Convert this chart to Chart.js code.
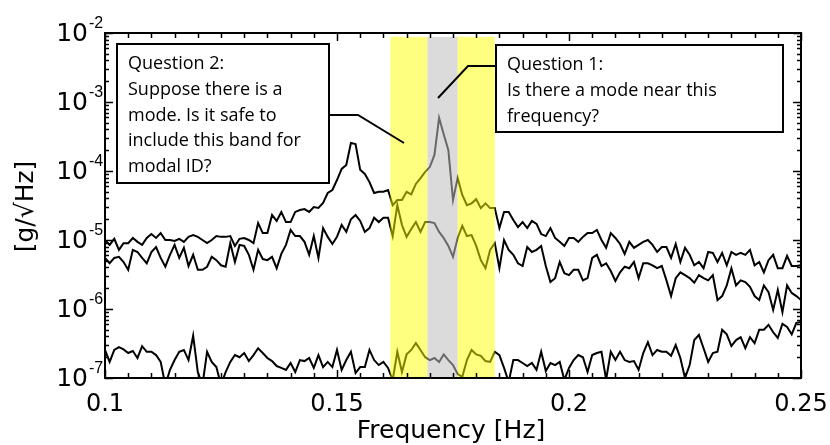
<!DOCTYPE html>
<html>
<head>
<meta charset="utf-8">
<script src="https://cdn.jsdelivr.net/npm/chart.js@4/dist/chart.umd.min.js"></script>
<style>
  body { margin: 0; background: #fff; }
</style>
</head>
<body>
<canvas id="psdChart" width="830" height="445"></canvas>
<script>
// frequency grid [Hz]
const freqs = [
  0.100, 0.101, 0.102, 0.103, 0.104, 0.105, 0.106, 0.107, 0.108, 0.109,
  0.110, 0.111, 0.112, 0.113, 0.114, 0.115, 0.116, 0.117, 0.118, 0.119,
  0.120, 0.121, 0.122, 0.123, 0.124, 0.125, 0.126, 0.127, 0.128, 0.129,
  0.130, 0.131, 0.132, 0.133, 0.134, 0.135, 0.136, 0.137, 0.138, 0.139,
  0.140, 0.141, 0.142, 0.143, 0.144, 0.145, 0.146, 0.147, 0.148, 0.149,
  0.150, 0.151, 0.152, 0.153, 0.154, 0.155, 0.156, 0.157, 0.158, 0.159,
  0.160, 0.161, 0.162, 0.163, 0.164, 0.165, 0.166, 0.167, 0.168, 0.169,
  0.170, 0.171, 0.172, 0.173, 0.174, 0.175, 0.176, 0.177, 0.178, 0.179,
  0.180, 0.181, 0.182, 0.183, 0.184, 0.185, 0.186, 0.187, 0.188, 0.189,
  0.190, 0.191, 0.192, 0.193, 0.194, 0.195, 0.196, 0.197, 0.198, 0.199,
  0.200, 0.201, 0.202, 0.203, 0.204, 0.205, 0.206, 0.207, 0.208, 0.209,
  0.210, 0.211, 0.212, 0.213, 0.214, 0.215, 0.216, 0.217, 0.218, 0.219,
  0.220, 0.221, 0.222, 0.223, 0.224, 0.225, 0.226, 0.227, 0.228, 0.229,
  0.230, 0.231, 0.232, 0.233, 0.234, 0.235, 0.236, 0.237, 0.238, 0.239,
  0.240, 0.241, 0.242, 0.243, 0.244, 0.245, 0.246, 0.247, 0.248, 0.249,
  0.250
];

// PSD [g/sqrt(Hz)] - upper trace (peaks near 0.153 and 0.172)
const upperPsd = [
  1.0e-5, 8.5e-6, 1.04e-5, 7.2e-6, 9.0e-6, 9.0e-6, 1.07e-5, 9.4e-6, 8.5e-6, 1.07e-5,
  1.22e-5, 1.07e-5, 1.26e-5, 1.0e-5, 1.0e-5, 9.7e-6, 1.04e-5, 9.4e-6, 1.11e-5, 1.18e-5,
  1.11e-5, 1.0e-5, 9.0e-6, 1.0e-5, 1.14e-5, 1.11e-5, 1.11e-5, 1.14e-5, 8.2e-6, 1.04e-5,
  1.07e-5, 1.0e-5, 9.0e-6, 1.76e-5, 1.26e-5, 1.26e-5, 2.3e-5, 1.89e-5, 2.55e-5, 1.82e-5,
  1.82e-5, 2.55e-5, 2.72e-5, 2.81e-5, 2.55e-5, 3.01e-5, 2.91e-5, 3.44e-5, 4.8e-5, 5.3e-5,
  7.4e-5, 1.07e-4, 1.22e-4, 2.55e-4, 2.46e-4, 1.04e-4, 9.05e-5, 6.9e-5, 4.8e-5, 5.0e-5,
  5.0e-5, 5.3e-5, 3.2e-5, 3.8e-5, 3.8e-5, 5.0e-5, 4.6e-5, 6.5e-5, 7.9e-5, 9.7e-5,
  1.14e-4, 1.71e-4, 5.9e-4, 3.4e-4, 2.0e-4, 3.8e-5, 7.9e-5, 4.5e-5, 3.2e-5, 3.4e-5,
  3.9e-5, 2.9e-5, 3.4e-5, 2.9e-5, 2.9e-5, 1.49e-5, 2.55e-5, 2.55e-5, 1.95e-5, 1.54e-5,
  1.82e-5, 1.49e-5, 1.89e-5, 1.71e-5, 1.22e-5, 1.14e-5, 1.49e-5, 1.07e-5, 9.4e-6, 8.2e-6,
  1.07e-5, 1.07e-5, 9.4e-6, 1.11e-5, 1.26e-5, 1.26e-5, 1.4e-5, 1.0e-5, 7.7e-6, 1.26e-5,
  1.07e-5, 8.75e-6, 6.3e-6, 9.4e-6, 7.7e-6, 8.5e-6, 9.4e-6, 1.0e-5, 8.5e-6, 6.7e-6,
  7.9e-6, 7.9e-6, 5.5e-6, 8.75e-6, 4.8e-6, 7.7e-6, 6.1e-6, 4.3e-6, 4.8e-6, 3.9e-6,
  6.7e-6, 6.5e-6, 4.8e-6, 6.5e-6, 4.3e-6, 6.7e-6, 6.1e-6, 6.5e-6, 6.1e-6, 7.2e-6,
  4.3e-6, 4.8e-6, 3.4e-6, 5.1e-6, 6.1e-6, 3.9e-6, 3.9e-6, 5.9e-6, 4.2e-6, 4.2e-6,
  4.3e-6
];

// middle trace
const middlePsd = [
  5.5e-6, 4.6e-6, 5.5e-6, 5.7e-6, 4.8e-6, 3.7e-6, 7.2e-6, 6.7e-6, 5.5e-6, 4.6e-6,
  6.7e-6, 7.9e-6, 5.5e-6, 4.1e-6, 6.1e-6, 8.5e-6, 5.5e-6, 7.7e-6, 4.2e-6, 6.1e-6,
  3.7e-6, 3.7e-6, 4.1e-6, 5.7e-6, 5.1e-6, 4.3e-6, 4.1e-6, 9.0e-6, 4.8e-6, 8.5e-6,
  8.2e-6, 6.1e-6, 3.7e-6, 7.2e-6, 5.3e-6, 5.1e-6, 5.7e-6, 3.9e-6, 6.3e-6, 8.5e-6,
  1.4e-5, 1.14e-5, 1.14e-5, 9.4e-6, 6.1e-6, 1.14e-5, 5.5e-6, 1.49e-5, 1.11e-5, 8.75e-6,
  1.11e-5, 1.65e-5, 1.31e-5, 2.0e-5, 2.3e-5, 1.89e-5, 1.31e-5, 1.49e-5, 2.1e-5, 1.82e-5,
  2.1e-5, 2.1e-5, 1.14e-5, 3.2e-5, 1.65e-5, 1.11e-5, 1.44e-5, 1.82e-5, 1.31e-5, 1.82e-5,
  1.82e-5, 1.76e-5, 1.31e-5, 1.07e-5, 8.2e-6, 5.7e-6, 1.07e-5, 1.6e-5, 1.14e-5, 1.18e-5,
  8.2e-6, 5.1e-6, 3.9e-6, 7.2e-6, 9.0e-6, 3.9e-6, 1.0e-5, 7.2e-6, 6.1e-6, 4.6e-6,
  4.2e-6, 7.9e-6, 6.7e-6, 7.2e-6, 8.2e-6, 4.2e-6, 2.46e-6, 2.8e-6, 4.8e-6, 3.3e-6,
  3.1e-6, 3.7e-6, 3.7e-6, 2.6e-6, 2.8e-6, 5.5e-6, 6.1e-6, 4.2e-6, 4.6e-6, 3.55e-6,
  2.55e-6, 3.4e-6, 4.1e-6, 3.9e-6, 4.8e-6, 2.8e-6, 4.6e-6, 4.6e-6, 4.3e-6, 3.9e-6,
  4.2e-6, 2.6e-6, 1.54e-6, 2.8e-6, 3.4e-6, 3.1e-6, 2.8e-6, 2.4e-6, 3.1e-6, 2.8e-6,
  2.6e-6, 3.1e-6, 1.35e-6, 1.54e-6, 2.2e-6, 3.9e-6, 2.2e-6, 2.6e-6, 2.46e-6, 2.1e-6,
  1.54e-6, 1.35e-6, 2.2e-6, 1.76e-6, 9.7e-7, 1.89e-6, 9.0e-7, 2.2e-6, 1.71e-6, 1.54e-6,
  1.35e-6
];

// lower trace (noise floor, dips below 1e-7 are clipped by the axis)
const lowerPsd = [
  2.55e-7, 1.71e-7, 2.55e-7, 2.8e-7, 2.6e-7, 2.3e-7, 2.46e-7, 1.95e-7, 2.9e-7, 2.4e-7,
  2.4e-7, 2.15e-7, 1.71e-7, 7.9e-8, 1.31e-7, 1.82e-7, 2.4e-7, 2.55e-7, 1.82e-7, 4.1e-7,
  1.22e-7, 7.9e-8, 2.4e-7, 1.71e-7, 1.44e-7, 7.9e-8, 1.22e-7, 1.71e-7, 2.15e-7, 2.0e-7,
  2.3e-7, 1.76e-7, 2.15e-7, 2.7e-7, 2.3e-7, 1.95e-7, 1.76e-7, 1.49e-7, 1.4e-7, 1.31e-7,
  1.65e-7, 1.22e-7, 1.82e-7, 1.76e-7, 1.95e-7, 1.4e-7, 2.15e-7, 1.44e-7, 1.71e-7, 1.44e-7,
  2.55e-7, 1.31e-7, 1.82e-7, 2.4e-7, 1.18e-7, 1.44e-7, 1.44e-7, 2.55e-7, 1.82e-7, 1.54e-7,
  1.71e-7, 1.4e-7, 9.35e-8, 2.4e-7, 1.22e-7, 2.2e-7, 2.55e-7, 3.2e-7, 2.55e-7, 2.0e-7,
  1.82e-7, 1.95e-7, 1.71e-7, 2.2e-7, 1.82e-7, 1.54e-7, 1.14e-7, 1.04e-7, 1.82e-7, 2.55e-7,
  2.2e-7, 2.1e-7, 1.76e-7, 1.71e-7, 2.4e-7, 2.15e-7, 1.4e-7, 8.75e-8, 1.82e-7, 1.82e-7,
  1.65e-7, 1.49e-7, 1.65e-7, 1.31e-7, 2.4e-7, 1.26e-7, 1.65e-7, 1.54e-7, 1.71e-7, 9.35e-8,
  1.4e-7, 1.82e-7, 2.15e-7, 2.0e-7, 1.22e-7, 2.15e-7, 2.3e-7, 2.4e-7, 9.5e-8, 2.4e-7,
  1.82e-7, 2.4e-7, 1.82e-7, 1.71e-7, 1.76e-7, 1.31e-7, 2.3e-7, 3.3e-7, 2.15e-7, 2.55e-7,
  2.4e-7, 2.4e-7, 2.1e-7, 3.0e-7, 1.95e-7, 1.0e-7, 1.54e-7, 3.55e-7, 4.2e-7, 2.7e-7,
  1.71e-7, 2.3e-7, 2.4e-7, 5.0e-7, 4.3e-7, 2.9e-7, 3.55e-7, 3.9e-7, 2.7e-7, 3.9e-7,
  3.2e-7, 5.0e-7, 5.0e-7, 5.9e-7, 4.6e-7, 3.8e-7, 6.1e-7, 5.5e-7, 4.3e-7, 6.3e-7,
  6.5e-7
];

// shaded frequency bands [Hz]
const bandStarts = [0.1615, 0.1695, 0.1760];
const bandEnds = [0.1695, 0.1760, 0.1840];
const bandTop = 8.8e-3;

// tick labels
const xTickValues = [0.1, 0.15, 0.2, 0.25];
const xTickLabels = ['0.1', '0.15', '0.2', '0.25'];
const yTickValues = [1e-7, 1e-6, 1e-5, 1e-4, 1e-3, 1e-2];
const yTickExponents = ['-7', '-6', '-5', '-4', '-3', '-2'];

const question1 = ['Question 1:', 'Is there a mode near this', 'frequency?'];
const question2 = ['Question 2:', 'Suppose there is a', 'mode. Is it safe to', 'include this band for', 'modal ID?'];

const BAND_COLORS = ['rgba(255,255,0,0.5)', 'rgba(190,190,190,0.55)', 'rgba(255,255,0,0.5)'];
const AXIS_FONT = '"DejaVu Sans", sans-serif';
const NOTE_FONT = '18px "Open Sans", sans-serif';

function drawNote(ctx, box, lines, leader) {
    ctx.lineWidth = 2;
    ctx.strokeStyle = '#000';
    ctx.beginPath();
    ctx.moveTo(leader[0][0], leader[0][1]);
    leader.slice(1).forEach(p => ctx.lineTo(p[0], p[1]));
    ctx.stroke();

    ctx.fillStyle = '#fff';
    ctx.fillRect(box.x, box.y, box.w, box.h);
    ctx.strokeRect(box.x, box.y, box.w, box.h);

    ctx.fillStyle = '#000';
    ctx.font = NOTE_FONT;
    ctx.textAlign = 'left';
    ctx.textBaseline = 'alphabetic';
    lines.forEach((t, i) => ctx.fillText(t, box.x + 11, box.y + 25 + i * 25.8));
}

const overlay = {
    id: 'overlay',
    afterDatasetsDraw(chart) {
        const { ctx, chartArea, scales: { x, y } } = chart;
        const top = y.getPixelForValue(bandTop);
        ctx.save();
        bandStarts.forEach((f, i) => {
            const x0 = x.getPixelForValue(f);
            const x1 = x.getPixelForValue(bandEnds[i]);
            ctx.fillStyle = BAND_COLORS[i];
            ctx.fillRect(x0, top, x1 - x0, chartArea.bottom - top);
        });
        ctx.restore();
    },
    afterDraw(chart) {
        const { ctx, chartArea: a, scales: { x, y } } = chart;
        ctx.save();
        ctx.strokeStyle = '#000';
        ctx.fillStyle = '#000';

        // frame
        ctx.lineWidth = 2;
        ctx.strokeRect(a.left, a.top, a.right - a.left, a.bottom - a.top);

        // inward ticks
        ctx.lineWidth = 1.5;
        ctx.beginPath();
        for (let k = 0; k <= 30; k++) {
            const px = Math.round(x.getPixelForValue(0.1 + k * 0.005)) + 0.5;
            const len = k % 10 === 0 ? 8 : 5;
            ctx.moveTo(px, a.bottom); ctx.lineTo(px, a.bottom - len);
            ctx.moveTo(px, a.top); ctx.lineTo(px, a.top + len);
        }
        yTickValues.forEach((v, i) => {
            const py = Math.round(y.getPixelForValue(v)) + 0.5;
            ctx.moveTo(a.left, py); ctx.lineTo(a.left + 8, py);
            ctx.moveTo(a.right, py); ctx.lineTo(a.right - 8, py);
            if (i === yTickValues.length - 1) return;
            for (let m = 2; m <= 9; m++) {
                const pm = Math.round(y.getPixelForValue(v * m)) + 0.5;
                ctx.moveTo(a.left, pm); ctx.lineTo(a.left + 4, pm);
                ctx.moveTo(a.right, pm); ctx.lineTo(a.right - 4, pm);
            }
        });
        ctx.stroke();

        // tick labels
        ctx.font = '24px ' + AXIS_FONT;
        ctx.textAlign = 'center';
        ctx.textBaseline = 'alphabetic';
        xTickValues.forEach((v, i) => ctx.fillText(xTickLabels[i], x.getPixelForValue(v), a.bottom + 33));

        yTickValues.forEach((v, i) => {
            const py = y.getPixelForValue(v);
            ctx.font = '25px ' + AXIS_FONT;
            ctx.textAlign = 'right';
            ctx.textBaseline = 'middle';
            ctx.fillText('10', a.left - 17, py + 1);
            ctx.font = '16px "Liberation Sans", sans-serif';
            ctx.textAlign = 'left';
            ctx.textBaseline = 'alphabetic';
            ctx.fillText(yTickExponents[i], a.left - 16, py - 5);
        });

        // axis titles
        ctx.font = '25px ' + AXIS_FONT;
        ctx.textAlign = 'center';
        ctx.textBaseline = 'alphabetic';
        ctx.fillText('Frequency [Hz]', (a.left + a.right) / 2 - 2, a.bottom + 60);
        ctx.save();
        ctx.translate(33, (a.top + a.bottom) / 2 + 1);
        ctx.rotate(-Math.PI / 2);
        ctx.fillText('[g/\u221AHz]', 0, 0);
        ctx.restore();

        // annotation boxes
        drawNote(ctx, { x: 117, y: 44, w: 212, h: 139 }, question2, [[329, 115], [358, 115], [404, 143]]);
        drawNote(ctx, { x: 496, y: 45, w: 287, h: 87 }, question1, [[496, 66], [468, 66], [438, 98]]);
        ctx.restore();
    }
};

const lineStyle = { borderColor: '#000', borderWidth: 2, pointRadius: 0, tension: 0, fill: false };

const chart = new Chart(document.getElementById('psdChart').getContext('2d'), {
    type: 'line',
    data: {
        labels: freqs,
        datasets: [
            { label: 'upper', data: upperPsd, ...lineStyle },
            { label: 'middle', data: middlePsd, ...lineStyle },
            { label: 'lower', data: lowerPsd, ...lineStyle }
        ]
    },
    options: {
        responsive: false,
        animation: false,
        devicePixelRatio: 1,
        layout: { padding: { left: 105, top: 33, right: 29, bottom: 67 } },
        plugins: { legend: { display: false }, tooltip: { enabled: false } },
        scales: {
            x: { type: 'linear', min: 0.1, max: 0.25, display: false },
            y: { type: 'logarithmic', min: 1e-7, max: 1e-2, display: false }
        }
    },
    plugins: [overlay]
});
</script>
</body>
</html>
